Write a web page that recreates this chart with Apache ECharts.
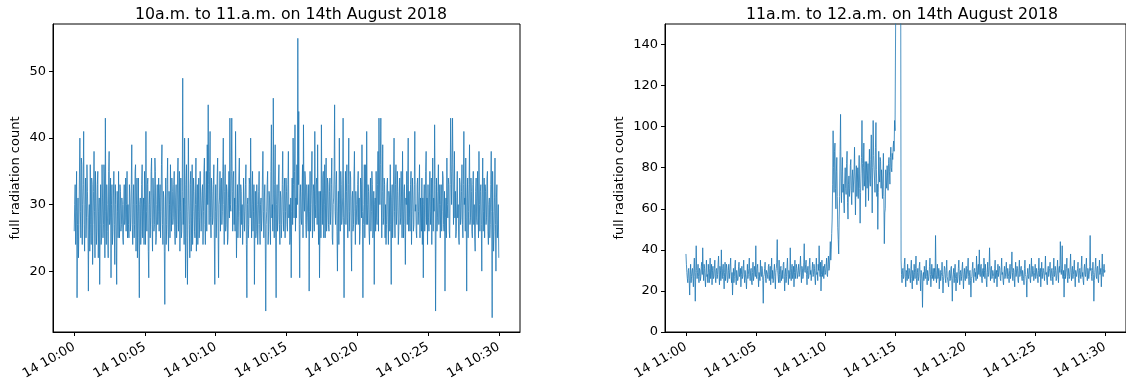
<!DOCTYPE html>
<html>
<head>
<meta charset="utf-8">
<title>Radiation count, 14th August 2018</title>
<script src="https://cdn.jsdelivr.net/npm/echarts@6/dist/echarts.min.js"></script>
<style>
  html, body { margin: 0; padding: 0; background: #fff; }
  #chart { width: 1126px; height: 387px; }
</style>
</head>
<body>
<div id="chart"></div>
<script>
// Counts are logged every SAMPLE_SECONDS; each row below is one minute (30 samples).
const SAMPLE_SECONDS = 2;

const TITLE_LEFT = '10a.m. to 11.a.m. on 14th August 2018';
const TITLE_RIGHT = '11a.m. to 12.a.m. on 14th August 2018';
const Y_NAME = 'full radiation count';

// 10:00 - 10:30
const COUNTS_10H = [
  26,30, 33,24, 29,35, 16,27, 31,22, 27,34, 40,29, 25,37, 36,24, 30,33, 41,27, 23,30, 34,25, 28,36, 32,28,
  17,28, 30,23, 36,27, 24,34, 33,21, 27,32, 38,29, 22,35, 31,24, 26,33, 35,22, 29,31, 18,27, 33,24, 25,36,
  31,25, 27,36, 34,22, 43,29, 24,33, 30,26, 22,35, 38,27, 28,34, 19,30, 33,24, 26,31, 35,27, 21,33, 30,25,
  18,32, 29,25, 35,28, 25,33, 32,26, 27,31, 30,25, 24,30, 33,27, 28,34, 26,30, 35,25, 30,27, 25,33, 31,26,
  28,33, 39,27, 24,30, 33,25, 27,35, 36,23, 30,34, 22,29, 34,25, 16,30, 31,24, 26,33, 36,25, 29,31, 24,35,
  30,24, 41,29, 26,33, 34,23, 19,30, 32,25, 28,35, 37,27, 23,34, 31,26, 27,37, 35,24, 25,30, 33,27, 29,34,
  26,31, 33,25, 29,36, 39,27, 24,32, 31,23, 15,28, 34,24, 27,33, 37,26, 23,32, 30,25, 36,29, 26,34, 32,27,
  28,33, 35,26, 24,31, 33,25, 27,34, 37,26, 30,35, 23,29, 34,25, 26,32, 49,27, 31,24, 40,30, 19,33, 36,25,
  18,29, 40,31, 27,22, 33,35, 23,28, 36,24, 29,34, 32,26, 25,30, 37,23, 30,33, 24,29, 34,25, 28,35, 31,26,
  26,32, 33,24, 29,35, 37,27, 24,31, 35,26, 39,30, 45,33, 27,35, 41,28, 25,34, 32,27, 28,33, 36,25, 18,29,
  33,25, 28,34, 37,26, 19,30, 31,35, 26,33, 34,27, 29,35, 40,30, 24,32, 36,26, 27,33, 32,24, 25,31, 35,28,
  43,30, 29,35, 43,32, 26,34, 35,27, 31,26, 41,30, 22,28, 33,25, 28,34, 37,29, 25,33, 32,27, 30,24, 27,34,
  34,26, 29,33, 36,24, 16,30, 31,25, 27,34, 33,28, 40,31, 25,30, 35,26, 29,33, 18,28, 32,25, 26,33, 30,24,
  27,32, 35,27, 24,30, 31,26, 28,34, 38,29, 25,31, 33,25, 14,27, 29,33, 35,24, 26,32, 31,27, 24,35, 42,28,
  30,26, 46,31, 25,33, 39,25, 16,30, 33,26, 28,34, 36,27, 24,32, 31,25, 27,33, 38,29, 26,32, 34,25, 29,34,
  32,27, 26,33, 38,28, 30,24, 25,31, 19,29, 34,27, 40,33, 28,35, 42,26, 31,28, 36,30, 55,33, 44,27, 19,31,
  33,28, 27,32, 36,25, 42,31, 29,35, 34,27, 25,33, 31,28, 26,33, 17,29, 35,26, 30,34, 38,25, 27,33, 32,26,
  41,30, 28,33, 34,27, 39,29, 24,32, 19,27, 32,25, 42,31, 27,34, 35,25, 30,36, 25,31, 37,26, 28,34, 33,27,
  26,32, 34,27, 29,33, 37,25, 24,30, 31,35, 45,29, 27,33, 35,26, 20,29, 32,24, 40,30, 26,35, 33,27, 28,31,
  43,28, 16,27, 31,35, 27,32, 36,28, 25,33, 40,26, 29,35, 34,25, 20,31, 32,26, 27,34, 38,29, 24,32, 30,27,
  28,33, 35,27, 31,24, 26,34, 33,28, 39,29, 16,27, 30,36, 25,31, 36,27, 41,30, 27,33, 32,26, 24,31, 34,26,
  29,35, 33,25, 26,32, 18,30, 31,26, 35,28, 27,33, 38,26, 43,34, 30,36, 43,31, 25,32, 39,27, 28,34, 33,25,
  30,24, 27,33, 34,28, 24,32, 31,26, 36,27, 18,31, 33,25, 28,34, 40,29, 25,33, 36,27, 29,35, 32,24, 26,31,
  34,27, 28,35, 31,25, 38,29, 25,32, 33,27, 21,31, 30,35, 27,33, 40,26, 32,28, 26,33, 35,24, 29,34, 31,26,
  27,33, 41,29, 30,26, 25,33, 34,27, 29,32, 36,25, 31,28, 26,34, 24,31, 19,30, 33,26, 28,35, 38,27, 31,24,
  33,28, 26,31, 35,27, 29,34, 24,31, 37,26, 31,29, 42,33, 14,27, 34,26, 28,32, 36,27, 30,33, 25,30, 33,26,
  29,35, 34,27, 26,32, 17,28, 31,25, 37,30, 28,34, 33,26, 25,33, 43,35, 30,36, 43,34, 27,32, 38,28, 32,25,
  26,31, 35,28, 30,25, 24,34, 33,27, 28,32, 36,27, 25,33, 41,30, 31,26, 37,28, 17,31, 34,25, 29,33, 39,27,
  28,34, 32,26, 25,33, 35,27, 30,25, 23,32, 34,28, 27,35, 31,25, 38,30, 26,32, 33,27, 20,31, 37,26, 29,34,
  25,33, 32,27, 28,34, 35,26, 24,30, 31,25, 27,33, 38,29, 13,35, 29,23, 26,31, 37,27, 20,31, 33,25, 27,30,
  22
];

// 11:00 - 11:30
const COUNTS_11H = [
  38,33, 29,26, 24,30, 31,25, 18,28, 33,24, 27,30, 31,26, 22,31, 36,27, 15,29, 42,30, 26,29, 33,27, 24,31,
  30,25, 27,32, 34,28, 41,30, 25,33, 31,26, 22,29, 35,27, 28,24, 33,29, 24,31, 36,26, 29,33, 23,30, 32,26,
  27,31, 35,27, 24,30, 31,26, 28,33, 37,28, 23,32, 30,25, 40,29, 26,31, 33,27, 21,29, 34,25, 28,33, 31,24,
  25,30, 33,26, 29,32, 36,27, 24,29, 18,26, 31,24, 27,32, 35,26, 23,30, 30,25, 26,32, 34,27, 28,31, 22,28,
  32,26, 27,31, 35,28, 24,30, 30,25, 21,28, 33,26, 28,31, 36,27, 25,30, 31,24, 23,29, 34,25, 27,32, 30,27,
  42,28, 26,31, 33,27, 22,29, 29,25, 35,28, 27,32, 31,25, 14,27, 28,31, 34,26, 24,30, 30,28, 26,32, 33,25,
  28,32, 23,29, 36,26, 30,24, 25,30, 33,27, 21,29, 31,34, 45,30, 27,24, 35,28, 24,31, 32,25, 28,30, 26,33,
  34,27, 20,28, 31,24, 27,32, 36,28, 23,30, 30,26, 41,29, 25,31, 33,26, 28,32, 22,29, 35,26, 29,33, 31,26,
  26,30, 33,27, 28,32, 37,29, 24,32, 31,26, 27,34, 43,30, 29,33, 35,28, 23,30, 32,26, 27,33, 36,28, 30,25,
  25,31, 34,27, 28,33, 31,26, 23,30, 36,28, 29,25, 33,30, 42,31, 27,34, 20,28, 35,27, 30,32, 26,31, 33,28,
  29,32, 36,28, 27,33, 37,30, 31,37, 44,35, 40,48, 55,72, 98,80, 68,88, 92,70, 60,78, 85,66, 51,45, 38,55,
  66,88, 106,75, 63,78, 85,68, 72,64, 58,74, 80,70, 67,82, 88,63, 55,72, 76,66, 70,81, 84,69, 62,75, 79,68,
  68,78, 90,72, 57,75, 81,66, 73,80, 65,77, 86,70, 53,68, 77,85, 103,82, 69,80, 92,71, 74,83, 61,76, 83,70,
  76,82, 64,78, 89,73, 71,84, 96,75, 58,80, 103,86, 79,74, 68,90, 102,79, 66,72, 50,68, 88,77, 73,85, 83,70,
  79,72, 65,76, 87,66, 43,58, 60,79, 74,70, 81,76, 69,82, 85,78, 72,85, 90,80, 78,87, 84,90, 93,88, 103,98,
  98,180, 260,290, 310,300, 290,320, 300,280, 270,200, 35,28, 24,30, 31,26, 27,33, 36,27, 22,30, 29,25, 33,28, 26,31,
  30,27, 24,31, 35,26, 21,30, 28,25, 33,29, 26,31, 37,26, 23,29, 31,25, 27,32, 34,26, 20,30, 29,25, 12,27,
  29,25, 32,28, 26,31, 35,27, 23,30, 30,25, 27,32, 36,28, 22,27, 33,26, 28,31, 25,29, 31,26, 47,30, 24,28,
  33,26, 27,31, 21,27, 30,25, 25,29, 34,27, 19,25, 28,32, 31,26, 24,30, 35,27, 27,24, 22,29, 30,25, 26,31,
  32,25, 15,26, 28,31, 24,29, 33,26, 20,27, 29,24, 26,31, 35,28, 23,29, 30,25, 27,31, 34,26, 21,28, 31,26,
  25,30, 32,26, 28,31, 36,27, 23,29, 30,25, 17,26, 27,31, 34,27, 24,30, 31,27, 29,25, 37,30, 26,32, 33,28,
  40,29, 27,32, 33,26, 24,30, 31,27, 36,30, 26,33, 29,25, 22,29, 34,27, 28,32, 41,30, 25,31, 32,26, 27,30,
  30,27, 24,31, 35,26, 28,30, 22,29, 33,27, 27,32, 31,26, 25,30, 36,28, 29,25, 23,29, 32,26, 27,31, 34,28,
  26,31, 31,27, 24,30, 33,26, 28,32, 39,29, 25,31, 30,26, 22,29, 34,27, 27,32, 31,25, 24,30, 35,27, 28,31,
  32,27, 25,30, 30,26, 23,31, 35,28, 27,25, 17,28, 31,27, 26,30, 33,26, 24,30, 36,27, 28,32, 30,25, 25,29,
  33,26, 27,31, 31,27, 24,30, 36,27, 28,31, 22,29, 34,26, 26,31, 30,27, 25,30, 37,28, 29,25, 23,30, 32,27,
  27,31, 34,26, 25,30, 31,27, 23,30, 36,27, 28,32, 30,25, 26,30, 35,28, 24,31, 32,29, 44,33, 28,31, 42,27,
  26,30, 17,27, 33,26, 29,31, 36,27, 24,31, 31,26, 27,32, 38,29, 25,30, 32,26, 28,31, 35,27, 22,30, 30,27,
  27,31, 34,26, 24,30, 31,28, 26,32, 37,27, 29,25, 23,31, 33,28, 27,32, 36,28, 25,31, 30,26, 28,32, 47,30,
  31,27, 25,30, 34,28, 15,25, 29,32, 36,27, 26,31, 32,26, 24,30, 35,28, 28,31, 22,29, 38,28, 27,31, 33,29,
  30
];

// Tick positions, in minutes past the hour
const X_TICKS = [0, 5, 10, 15, 20, 25, 30];
const Y_TICKS_10H = [20, 30, 40, 50];
const Y_TICKS_11H = [0, 20, 40, 60, 80, 100, 120, 140];

const toPoints = counts => counts.map((v, i) => [i * SAMPLE_SECONDS / 60, v]);
const pad = n => (n < 10 ? '0' : '') + n;

const FONT = 'DejaVu Sans';
const INK = '#000';
const LINE = '#1f77b4';

function xAxisFor(gridIndex, hour) {
  return {
    type: 'value', gridIndex,
    min: -1.5, max: 31.5,
    axisLine: { show: true, onZero: false, lineStyle: { color: INK, width: 1 } },
    axisTick: { show: true, length: 4, customValues: X_TICKS, lineStyle: { color: INK, width: 1 } },
    axisLabel: {
      customValues: X_TICKS, rotate: 30, margin: 14,
      fontFamily: FONT, fontSize: 13, color: INK,
      formatter: v => '14 ' + hour + ':' + pad(v)
    },
    splitLine: { show: false }
  };
}

function yAxisFor(gridIndex, min, max, ticks, gap) {
  return {
    type: 'value', gridIndex, min, max,
    name: Y_NAME, nameLocation: 'middle', nameGap: gap, nameRotate: 90,
    nameTextStyle: { fontFamily: FONT, fontSize: 13, color: INK },
    axisLine: { show: true, onZero: false, lineStyle: { color: INK, width: 1 } },
    axisTick: { show: true, length: 4, customValues: ticks, lineStyle: { color: INK, width: 1 } },
    axisLabel: { customValues: ticks, margin: 7, fontFamily: FONT, fontSize: 13, color: INK },
    splitLine: { show: false }
  };
}

const titleStyle = { fontFamily: FONT, fontSize: 15.75, fontWeight: 'normal', color: INK };

const chart = echarts.init(document.getElementById('chart'), null, { renderer: 'canvas' });
chart.setOption({
  animation: false,
  backgroundColor: '#fff',
  title: [
    { text: TITLE_LEFT, left: 286, top: 2, textAlign: 'center', textStyle: titleStyle },
    { text: TITLE_RIGHT, left: 897, top: 2, textAlign: 'center', textStyle: titleStyle }
  ],
  grid: [
    { left: 53, top: 24, width: 467, height: 308, show: true, borderColor: INK, borderWidth: 1, containLabel: false },
    { left: 665, top: 24, width: 467, height: 308, show: true, borderColor: INK, borderWidth: 1, containLabel: false }
  ],
  xAxis: [xAxisFor(0, 10), xAxisFor(1, 11)],
  yAxis: [
    yAxisFor(0, 10.85, 57.15, Y_TICKS_10H, 31),
    yAxisFor(1, 0, 150, Y_TICKS_11H, 39)
  ],
  series: [
    { type: 'line', xAxisIndex: 0, yAxisIndex: 0, data: toPoints(COUNTS_10H),
      showSymbol: false, clip: true, lineStyle: { color: LINE, width: 0.8 } },
    { type: 'line', xAxisIndex: 1, yAxisIndex: 1, data: toPoints(COUNTS_11H),
      showSymbol: false, clip: true, lineStyle: { color: LINE, width: 0.8 } }
  ]
});
</script>
</body>
</html>
